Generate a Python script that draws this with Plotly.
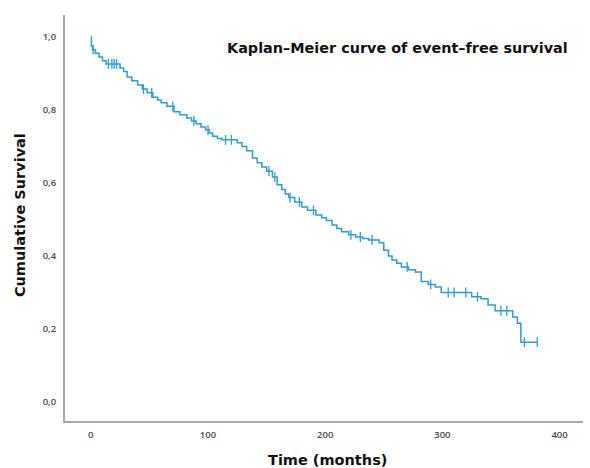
import plotly.graph_objects as go

# Event step times (months) and cumulative survival after each step
times = [0, 0.5, 1.5, 4, 7, 10, 13, 25, 28, 31, 35, 40, 44, 48, 53, 57, 60, 65, 71, 76,
         82, 86, 90, 94, 98, 101, 104, 108, 112, 125, 129, 133, 138, 142, 146, 150, 155,
         159, 163, 166, 169, 174, 180, 185, 192, 197, 201, 206, 210, 214, 220, 226, 232,
         237, 246, 250, 254, 257, 261, 265, 271, 277, 282, 288, 294, 299, 325, 333, 339,
         345, 360, 364, 367, 381]
survival = [1.0, 0.975, 0.965, 0.955, 0.945, 0.935, 0.926, 0.915, 0.905, 0.89, 0.88, 0.868,
            0.857, 0.847, 0.835, 0.827, 0.82, 0.81, 0.795, 0.787, 0.778, 0.77, 0.762, 0.753,
            0.745, 0.737, 0.728, 0.722, 0.718, 0.71, 0.70, 0.688, 0.668, 0.655, 0.644, 0.632,
            0.616, 0.595, 0.582, 0.57, 0.56, 0.548, 0.534, 0.525, 0.512, 0.505, 0.497, 0.485,
            0.475, 0.466, 0.458, 0.452, 0.448, 0.444, 0.436, 0.416, 0.40, 0.389, 0.38, 0.37,
            0.362, 0.356, 0.33, 0.322, 0.315, 0.30, 0.288, 0.283, 0.266, 0.25, 0.233, 0.216,
            0.164, 0.164]

# Censored observations (months)
censor_times = [2, 15, 18, 20, 22, 45, 52, 70, 88, 100, 115, 120, 152, 157, 170, 178, 190,
                222, 230, 240, 270, 290, 305, 310, 320, 330, 350, 355, 370, 381]

x_ticks = [0, 100, 200, 300, 400]
y_ticks = [0.0, 0.2, 0.4, 0.6, 0.8, 1.0]
y_tick_labels = ["0,0", "0,2", "0,4", "0,6", "0,8", "1,0"]

title_text = "Kaplan–Meier curve of event–free survival"
x_title = "Time (months)"
y_title = "Cumulative Survival"


def surv_at(t):
    s = survival[0]
    for ti, si in zip(times, survival):
        if ti <= t:
            s = si
    return s


censor_surv = [surv_at(t) for t in censor_times]

BLUE = "#2f9bd3"
TITLE_FONT = "DejaVu Sans"

fig = go.Figure()
fig.add_trace(go.Scatter(x=times, y=survival, mode="lines", line_shape="hv",
                         line=dict(color=BLUE, width=1.5), showlegend=False,
                         hoverinfo="skip"))
fig.add_trace(go.Scatter(x=censor_times, y=censor_surv, mode="markers",
                         marker=dict(symbol="line-ns", size=7, color=BLUE,
                                     line=dict(color=BLUE, width=1.3)),
                         showlegend=False, hoverinfo="skip"))

fig.update_layout(
    width=590, height=468,
    margin=dict(l=65, r=7, t=15, b=47),
    paper_bgcolor="white", plot_bgcolor="white",
    font=dict(family="Open Sans", color="#555"),
    xaxis=dict(range=[-22, 420], tickvals=x_ticks, showgrid=False, zeroline=False,
               showline=True, linecolor="#a8a8a8", linewidth=2, ticks="",
               tickfont=dict(size=9.5, color="#4a4a4a", weight=600), ticklabelstandoff=4),
    yaxis=dict(range=[-0.052, 1.06], tickvals=y_ticks, ticktext=y_tick_labels,
               showgrid=False, zeroline=False, showline=True, linecolor="#a8a8a8",
               linewidth=2, ticks="", tickfont=dict(size=9.5, color="#4a4a4a", weight=600),
               ticklabelstandoff=5),
    annotations=[
        dict(text="<b>" + title_text + "</b>", xref="paper", yref="paper",
             x=0.309, y=0.919, xanchor="left", yanchor="middle", showarrow=False,
             font=dict(family=TITLE_FONT, size=14.4, color="#111")),
        dict(text="<b>" + x_title + "</b>", xref="paper", yref="paper",
             x=0.506, y=-0.096, xanchor="center", yanchor="middle", showarrow=False,
             font=dict(family=TITLE_FONT, size=14.5, color="#111")),
        dict(text="<b>" + y_title + "</b>", xref="paper", yref="paper",
             x=-0.087, y=0.507, xanchor="center", yanchor="middle", showarrow=False,
             textangle=-90, font=dict(family=TITLE_FONT, size=14.5, color="#111")),
    ],
)

fig.write_html("out.html")
